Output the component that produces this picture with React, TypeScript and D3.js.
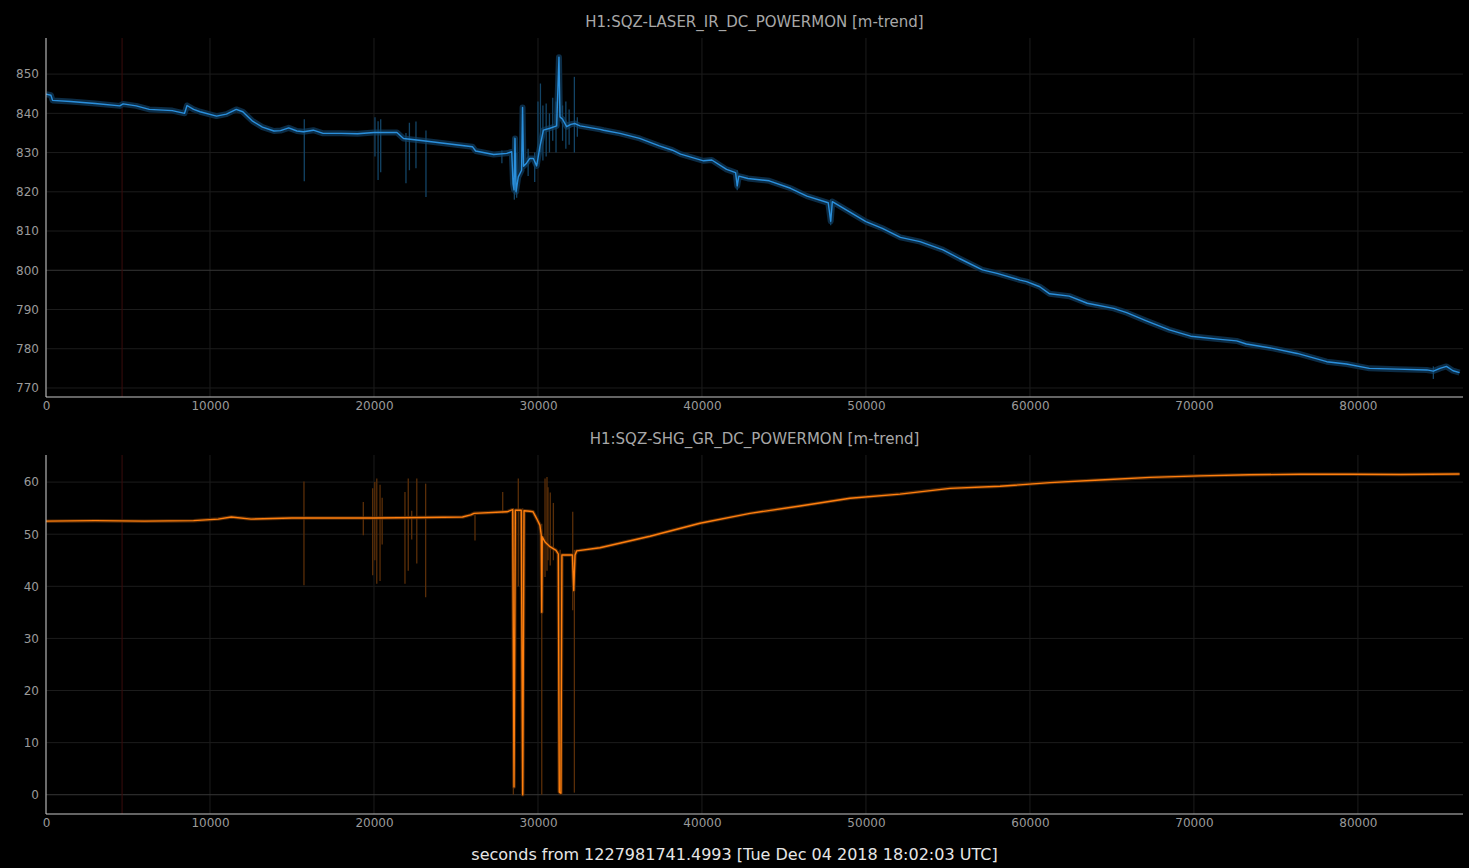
import React, { useEffect, useRef } from 'react';
import * as d3 from 'd3';

// minute-trend mean samples [gps offset s, value]
const irMean: [number, number][] = [
  [0, 844.9], [300, 844.6], [400, 843.3], [1500, 843.0], [3000, 842.5], [4500, 841.9], [4700, 842.4],
  [5500, 841.9], [6300, 841.0], [7700, 840.7], [8450, 840.0], [8600, 842.0], [9000, 841.0], [9400, 840.4],
  [10400, 839.3], [11000, 839.8], [11600, 841.0], [12000, 840.4], [12600, 838.0], [13200, 836.5],
  [13900, 835.5], [14300, 835.6], [14800, 836.3], [15300, 835.5], [15700, 835.3], [16300, 835.7],
  [16900, 834.9], [18000, 834.9], [19000, 834.8], [20000, 835.1], [21400, 835.1], [21800, 833.6],
  [23000, 833.0], [24000, 832.5], [25000, 832.0], [26000, 831.5], [26200, 830.4], [27300, 829.5],
  [28100, 829.8], [28400, 830.2], [28480, 822.0], [28540, 820.5], [28600, 833.6], [28660, 820.0],
  [28800, 823.8], [29000, 825.5], [29060, 841.5], [29120, 826.5], [29300, 827.3], [29500, 828.5],
  [29720, 828.5], [29920, 826.6], [30120, 831.5], [30330, 835.7], [30730, 836.2], [31140, 836.8],
  [31280, 854.3], [31340, 839.1], [31500, 838.5], [31750, 836.6], [32000, 837.2], [32260, 837.4],
  [32560, 836.8], [33780, 835.9], [34000, 835.7], [35000, 834.9], [36200, 833.6], [37400, 831.7],
  [38200, 830.6], [38700, 829.6], [40100, 827.9], [40600, 828.1], [41500, 825.7], [42050, 824.9],
  [42150, 821.5], [42250, 824.0], [42800, 823.4], [44100, 822.8], [45400, 820.9], [46400, 818.9],
  [47700, 817.2], [47850, 812.5], [47950, 817.5], [49000, 814.9], [50000, 812.4], [51000, 810.7],
  [52100, 808.4], [53300, 807.3], [54700, 805.2], [55700, 803.0], [57100, 800.1], [58000, 799.2],
  [59400, 797.5], [59800, 797.1], [60600, 795.8], [61200, 794.0], [62400, 793.4], [63500, 791.6],
  [65100, 790.3], [65900, 789.2], [67100, 787.1], [68500, 784.8], [69800, 783.2], [71600, 782.4],
  [72600, 782.0], [73200, 781.2], [74800, 780.1], [76300, 778.8], [78100, 776.7], [79300, 776.1],
  [80700, 775.0], [82400, 774.8], [84200, 774.6], [84600, 774.3], [85000, 775.0], [85400, 775.5],
  [85800, 774.4], [86200, 773.9],
];

// min/max excursions [t, min, max]
const irSpikes: [number, number, number][] = [
  [15750, 822.7, 838.5], [20060, 829.0, 839.0], [20250, 823.0, 838.0], [20410, 825.0, 838.5],
  [21950, 822.2, 835.0], [22160, 825.5, 837.6], [22560, 826.0, 837.9], [23170, 818.7, 835.6],
  [27800, 827.3, 830.5], [28560, 818.0, 834.0], [28700, 818.5, 830.0], [29400, 824.0, 831.0],
  [29800, 822.5, 830.0], [30000, 827.0, 843.0], [30150, 830.0, 847.6], [30300, 828.0, 842.0],
  [30500, 829.0, 842.5], [30700, 830.0, 840.0], [30900, 833.0, 844.0], [31100, 830.0, 843.0],
  [31500, 833.0, 842.0], [31700, 831.0, 843.0], [31900, 832.0, 841.0], [32220, 830.0, 849.3],
  [32400, 834.0, 839.0], [42150, 820.4, 825.5], [47850, 811.5, 818.0], [84600, 772.3, 775.5],
];

const grMean: [number, number][] = [
  [0, 52.5], [3000, 52.6], [6000, 52.5], [9000, 52.6], [10500, 52.9], [11300, 53.3], [12500, 52.9],
  [15000, 53.1], [20000, 53.1], [23000, 53.2], [25400, 53.3], [25900, 53.7], [26100, 54.0],
  [28100, 54.3], [28460, 54.7], [28540, 1.5], [28620, 54.6], [28980, 54.6], [29070, 0.0],
  [29150, 54.5], [29500, 54.4], [29700, 54.3], [29920, 53.0], [30120, 51.7], [30200, 49.8],
  [30230, 35.0], [30260, 49.5], [30430, 48.5], [30730, 47.6], [31100, 46.9], [31240, 46.2],
  [31300, 0.5], [31400, 0.3], [31460, 46.0], [31800, 46.0], [32100, 46.0], [32180, 39.2],
  [32260, 46.0], [32360, 46.8], [33780, 47.4], [36830, 49.6], [39880, 52.1], [42930, 54.0],
  [45980, 55.4], [49030, 56.9], [52080, 57.7], [55130, 58.8], [58180, 59.2], [61220, 59.9],
  [64270, 60.4], [67320, 60.9], [70370, 61.2], [73400, 61.4], [76470, 61.5], [79500, 61.5],
  [82600, 61.45], [86200, 61.55],
];

const grSpikes: [number, number, number][] = [
  [15730, 40.2, 60.1], [19350, 49.8, 56.2], [19920, 42.1, 58.8], [20050, 45.0, 60.0],
  [20170, 40.5, 60.7], [20370, 41.0, 59.5], [20500, 48.0, 57.0], [21890, 40.5, 58.1],
  [22090, 43.0, 60.7], [22300, 49.0, 54.5], [22610, 44.4, 60.7], [23150, 37.9, 59.7],
  [26160, 48.8, 53.7], [27850, 54.0, 58.1], [28500, 0.0, 55.0], [28800, 40.0, 60.7],
  [29070, 0.0, 55.0], [30230, 0.0, 52.0], [30430, 41.8, 60.7], [30550, 43.0, 61.0],
  [30610, 45.0, 59.0], [30750, 44.0, 58.0], [30940, 45.0, 56.0], [31350, 0.0, 47.0],
  [32120, 35.4, 54.3], [32220, 0.4, 47.0],
];

const xTicks = [0, 10000, 20000, 30000, 40000, 50000, 60000, 70000, 80000];
const irTicks = [770, 780, 790, 800, 810, 820, 830, 840, 850];
const grTicks = [0, 10, 20, 30, 40, 50, 60];
const markerTime = 4640;

const W = 1469;
const H = 868;

const panels = [
  {
    title: 'H1:SQZ-LASER_IR_DC_POWERMON [m-trend]', mean: irMean, spikes: irSpikes,
    domain: [767.7, 859.2], ticks: irTicks, major: 800, top: 38, bottom: 397, titleY: 22,
    color: '#2a8fdc', band: '#0c2c45', spike: '#134466', bandW: 6,
  },
  {
    title: 'H1:SQZ-SHG_GR_DC_POWERMON [m-trend]', mean: grMean, spikes: grSpikes,
    domain: [-3.7, 65.2], ticks: grTicks, major: 0, top: 455, bottom: 814, titleY: 439,
    color: '#ff7f0e', band: '#4a2506', spike: '#5a2e08', bandW: 3.5,
  },
];

export default function App() {
  const svgRef = useRef<SVGSVGElement>(null);

  useEffect(() => {
    if (!svgRef.current) return;
    const svg = d3.select(svgRef.current);
    svg.selectAll('*').remove();

    const left = 46, right = 1463;
    const x = d3.scaleLinear().domain([0, 86400]).range([left, left + 86400 * 0.016399]);

    panels.forEach((p, i) => {
      const y = d3.scaleLinear().domain(p.domain).range([p.bottom, p.top]);
      const clipId = `clip${i}`;
      svg.append('clipPath').attr('id', clipId)
        .append('rect').attr('x', left).attr('y', p.top).attr('width', right - left).attr('height', p.bottom - p.top);

      // grid
      const grid = svg.append('g');
      grid.selectAll('line.gx').data(xTicks).join('line')
        .attr('x1', d => x(d)).attr('x2', d => x(d)).attr('y1', p.top).attr('y2', p.bottom)
        .attr('stroke', '#1c1c1c');
      grid.selectAll('line.gy').data(p.ticks).join('line')
        .attr('x1', left).attr('x2', right).attr('y1', d => y(d)).attr('y2', d => y(d))
        .attr('stroke', d => (d === p.major ? '#363636' : '#1c1c1c'));

      // time marker
      svg.append('line')
        .attr('x1', x(markerTime)).attr('x2', x(markerTime)).attr('y1', p.top).attr('y2', p.bottom)
        .attr('stroke', '#3a0c0c');

      const g = svg.append('g').attr('clip-path', `url(#${clipId})`);
      const line = d3.line<[number, number]>().x(d => x(d[0])).y(d => y(d[1]));

      g.append('path').attr('d', line(p.mean)).attr('fill', 'none')
        .attr('stroke', p.band).attr('stroke-width', p.bandW).attr('stroke-linejoin', 'round');

      g.selectAll('line.spike').data(p.spikes).join('line')
        .attr('x1', d => x(d[0])).attr('x2', d => x(d[0]))
        .attr('y1', d => y(d[1])).attr('y2', d => y(d[2]))
        .attr('stroke', p.spike).attr('stroke-width', 1.3);

      g.append('path').attr('d', line(p.mean)).attr('fill', 'none')
        .attr('stroke', p.color).attr('stroke-width', 1.4).attr('stroke-linejoin', 'round');

      // axes
      const yAxis = svg.append('g').attr('transform', `translate(${left},0)`)
        .call(d3.axisLeft(y).tickValues(p.ticks).tickSize(0).tickPadding(7));
      yAxis.select('.domain').remove();
      const xAxis = svg.append('g').attr('transform', `translate(0,${p.bottom})`)
        .call(d3.axisBottom(x).tickValues(xTicks).tickSize(0).tickPadding(4).tickFormat(d3.format('d')));
      xAxis.select('.domain').remove();
      svg.selectAll('.tick text')
        .attr('fill', '#9a9a9a').style('font-family', 'DejaVu Sans').style('font-size', '12px');

      svg.append('line').attr('x1', left).attr('x2', left).attr('y1', p.top).attr('y2', p.bottom)
        .attr('stroke', '#c8c8c8');
      svg.append('line').attr('x1', left).attr('x2', right).attr('y1', p.bottom).attr('y2', p.bottom)
        .attr('stroke', '#c8c8c8');

      svg.append('text').attr('x', (left + right) / 2).attr('y', p.titleY).attr('dy', '0.35em')
        .attr('text-anchor', 'middle').attr('fill', '#a8a8a8')
        .style('font-family', 'DejaVu Sans').style('font-size', '15px').text(p.title);
    });

    svg.append('text').attr('x', W / 2).attr('y', 854).attr('dy', '0.35em')
      .attr('text-anchor', 'middle').attr('fill', '#e6e6e6')
      .style('font-family', 'DejaVu Sans').style('font-size', '16px')
      .text('seconds from 1227981741.4993 [Tue Dec 04 2018 18:02:03 UTC]');
  }, []);

  return (
    <div style={{ position: 'fixed', left: 0, top: 0, width: W, height: H, background: '#000' }}>
      <svg ref={svgRef} width={W} height={H} style={{ display: 'block', background: '#000' }} />
    </div>
  );
}
